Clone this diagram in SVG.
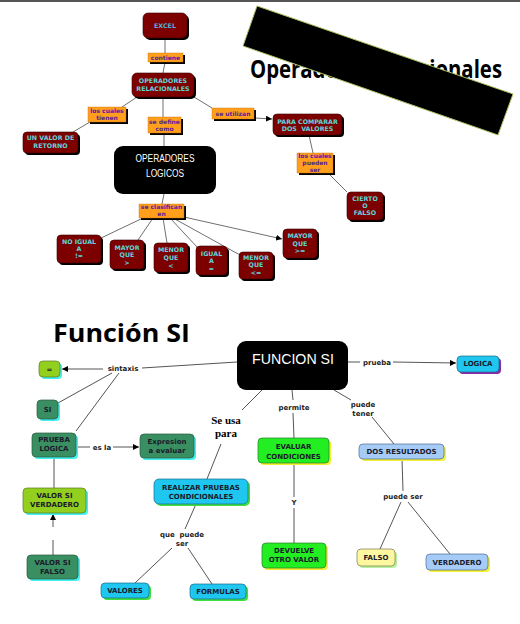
<svg xmlns="http://www.w3.org/2000/svg" width="520" height="624" viewBox="0 0 520 624">
<defs>
<style>
.bg{fill:#ffffff}
.red{fill:#7d0000;stroke:#3a0000;stroke-width:0.6}
.sh{fill:#000000}
.lab{fill:#ff9f1c;stroke:#c07010;stroke-width:0.4}
.tn{font-family:"DejaVu Sans",Verdana,sans-serif;font-weight:bold;font-size:6.3px;fill:#5fd3dc;text-anchor:middle}
.tl{font-family:"DejaVu Sans",Verdana,sans-serif;font-weight:bold;font-size:6px;fill:#5a1e96;text-anchor:middle}
.bn{font-family:"DejaVu Sans",Verdana,sans-serif;font-weight:bold;font-size:7px;fill:#1a1a2a;text-anchor:middle}
.bl{font-family:"DejaVu Sans",Verdana,sans-serif;font-weight:bold;font-size:7px;fill:#222222;text-anchor:middle}
.ser{font-family:"Liberation Serif","Times New Roman",serif;font-weight:bold;font-size:11px;fill:#000000;text-anchor:middle}
.ln{stroke:#707070;stroke-width:1;fill:none}
.lnb{stroke:#555555;stroke-width:1;fill:none}
.title{font-family:"Open Sans","Liberation Sans",Arial,sans-serif;font-weight:bold;font-size:25px;fill:#000000}
.teal{fill:#3a8f62;stroke:#2a5a40;stroke-width:0.7}
.yg{fill:#93cf1f;stroke:#5a7a20;stroke-width:0.7}
.grn{fill:#22ee22;stroke:#2a7a2a;stroke-width:0.7}
.cy{fill:#1ec6f0;stroke:#1a6a8a;stroke-width:0.7}
.lb{fill:#a6cbf7;stroke:#4a6a9a;stroke-width:0.7}
.ly{fill:#fff7a0;stroke:#7a7a50;stroke-width:0.7}
.scy{fill:#40f0f0}
.sgr{fill:#3ee03e}
.sye{fill:#f4f030}
.spu{fill:#8a2aa8}
</style>
<marker id="arr" viewBox="0 0 10 10" refX="10" refY="5" markerWidth="6" markerHeight="6" orient="auto" markerUnits="userSpaceOnUse">
<path d="M0,0 L10,5 L0,10 z" fill="#000"/>
</marker>
</defs>
<rect class="bg" x="0" y="0" width="520" height="624"/>
<rect x="0" y="0" width="520" height="2" fill="#555"/>

<g id="titles">
<text class="title" x="250" y="78" textLength="252" lengthAdjust="spacingAndGlyphs">Operadores Relacionales</text>
<text class="title" x="53" y="342" textLength="137" lengthAdjust="spacingAndGlyphs">Función SI</text>
</g>
<polygon id="redaction" points="257,6 513,94 498,135 243,46" fill="#000" stroke="#a8c060" stroke-width="1"/>

<g id="connectors">
<line class="ln" x1="165" y1="38" x2="165" y2="53"/>
<line class="ln" x1="165" y1="62" x2="163" y2="73"/>
<line class="ln" x1="137" y1="97" x2="122" y2="107"/>
<line class="ln" x1="90" y1="122" x2="73" y2="132"/>
<line class="ln" x1="163" y1="97" x2="163" y2="117"/>
<line class="ln" x1="164" y1="133" x2="164" y2="146"/>
<line class="ln" x1="194" y1="97" x2="212" y2="108"/>
<line class="ln" x1="255" y1="118" x2="272" y2="119" marker-end="url(#arr)"/>
<line class="ln" x1="309" y1="135" x2="313" y2="153"/>
<line class="ln" x1="329" y1="174" x2="347" y2="192"/>
<line class="ln" x1="164" y1="194" x2="162" y2="204"/>
<line class="ln" x1="143" y1="218" x2="101" y2="238"/>
<line class="ln" x1="153" y1="218" x2="138" y2="240"/>
<line class="ln" x1="163" y1="218" x2="167" y2="243"/>
<line class="ln" x1="170" y1="218" x2="197" y2="247"/>
<line class="ln" x1="173" y1="218" x2="240" y2="255"/>
<line class="ln" x1="184" y1="217" x2="282" y2="239" marker-end="url(#arr)"/>
<line class="lnb" x1="237" y1="362" x2="142" y2="368"/>
<line class="lnb" x1="103" y1="369" x2="62" y2="369" marker-end="url(#arr)"/>
<line class="lnb" x1="112" y1="373" x2="58" y2="403"/>
<line class="lnb" x1="119" y1="373" x2="76" y2="431"/>
<line class="lnb" x1="76" y1="447" x2="90" y2="447"/>
<line class="lnb" x1="113" y1="447" x2="139" y2="447" marker-end="url(#arr)"/>
<line class="lnb" x1="54" y1="457" x2="54" y2="488"/>
<line class="lnb" x1="53" y1="555" x2="53" y2="540"/>
<line class="lnb" x1="53" y1="527" x2="53" y2="514" marker-end="url(#arr)"/>
<line class="lnb" x1="348" y1="362" x2="360" y2="362"/>
<line class="lnb" x1="393" y1="362" x2="456" y2="363" marker-end="url(#arr)"/>
<line class="lnb" x1="292" y1="390" x2="293" y2="400"/>
<line class="lnb" x1="293" y1="413" x2="294" y2="438"/>
<line class="lnb" x1="334" y1="390" x2="351" y2="400"/>
<line class="lnb" x1="372" y1="417" x2="394" y2="444"/>
<line class="lnb" x1="262" y1="390" x2="242" y2="410"/>
<line class="lnb" x1="221" y1="444" x2="207" y2="479"/>
<line class="lnb" x1="196" y1="504" x2="185" y2="529"/>
<line class="lnb" x1="172" y1="548" x2="135" y2="583"/>
<line class="lnb" x1="188" y1="548" x2="212" y2="584"/>
<line class="lnb" x1="294" y1="463" x2="294" y2="497"/>
<line class="lnb" x1="294" y1="508" x2="294" y2="543"/>
<line class="lnb" x1="402" y1="459" x2="403" y2="491"/>
<line class="lnb" x1="401" y1="502" x2="380" y2="549"/>
<line class="lnb" x1="408" y1="502" x2="450" y2="554"/>
</g>

<g id="excel"><rect class="sh" x="145" y="15" width="44" height="25" rx="5"/><rect class="red" x="143" y="13" width="44" height="25" rx="5"/><text class="tn" x="165" y="27.5" style="fill:#4fb0dc">EXCEL</text></g>
<g id="l-contiene"><rect class="sh" x="150" y="55" width="35" height="9"/><rect class="lab" x="148" y="53" width="35" height="9"/><text class="tl" x="165.5" y="60">contiene</text></g>
<g id="op-rel"><rect class="sh" x="134" y="75" width="62" height="24" rx="5"/><rect class="red" x="132" y="73" width="62" height="24" rx="5"/><text class="tn" x="163" y="83">OPERADORES</text><text class="tn" x="163" y="90.5">RELACIONALES</text></g>
<g id="l-tienen"><rect class="sh" x="90" y="109" width="38" height="15"/><rect class="lab" x="88" y="107" width="38" height="15"/><text class="tl" x="107" y="112.5">los cuales</text><text class="tl" x="107" y="120">tienen</text></g>
<g id="l-define"><rect class="sh" x="150" y="119" width="33" height="16"/><rect class="lab" x="148" y="117" width="33" height="16"/><text class="tl" x="164.5" y="123.5">se define</text><text class="tl" x="164.5" y="131">como</text></g>
<g id="l-utilizan"><rect class="sh" x="214" y="110" width="42" height="11"/><rect class="lab" x="212" y="108" width="42" height="11"/><text class="tl" x="233" y="116">se utilizan</text></g>
<g id="retorno"><rect class="sh" x="25" y="134" width="55" height="21" rx="4"/><rect class="red" x="23" y="132" width="55" height="21" rx="4"/><text class="tn" x="50.5" y="139.5">UN VALOR DE</text><text class="tn" x="50.5" y="148">RETORNO</text></g>
<g id="comparar"><rect class="sh" x="275" y="116" width="69" height="21" rx="4"/><rect class="red" x="273" y="114" width="69" height="21" rx="4"/><text class="tn" x="307.5" y="123.5">PARA COMPARAR</text><text class="tn" x="307.5" y="131" xml:space="preserve">DOS  VALORES</text></g>
<g id="op-log"><rect x="114" y="146" width="102" height="48" rx="9" fill="#000"/><text x="165" y="161.5" text-anchor="middle" font-family="Liberation Sans, Arial, sans-serif" font-size="10" fill="#fff" textLength="59" lengthAdjust="spacingAndGlyphs">OPERADORES</text><text x="165" y="176.5" text-anchor="middle" font-family="Liberation Sans, Arial, sans-serif" font-size="10" fill="#fff" textLength="38" lengthAdjust="spacingAndGlyphs">LOGICOS</text></g>
<g id="l-pueden"><rect class="sh" x="299" y="155" width="36" height="20"/><rect class="lab" x="297" y="153" width="36" height="20"/><text class="tl" x="315" y="157.5">los cuales</text><text class="tl" x="315" y="165">pueden</text><text class="tl" x="315" y="172">ser</text></g>
<g id="cierto"><rect class="sh" x="349" y="194" width="36" height="28" rx="4"/><rect class="red" x="347" y="192" width="36" height="28" rx="4"/><text class="tn" x="365" y="200.5">CIERTO</text><text class="tn" x="365" y="208">O</text><text class="tn" x="365" y="215">FALSO</text></g>
<g id="l-clasifican"><rect class="sh" x="141" y="206" width="45" height="14"/><rect class="lab" x="139" y="204" width="45" height="14"/><text class="tl" x="161.5" y="209">se clasifican</text><text class="tl" x="161.5" y="216">en</text></g>
<g id="no-igual"><rect class="sh" x="59" y="237" width="44" height="28" rx="4"/><rect class="red" x="57" y="235" width="44" height="28" rx="4"/><text class="tn" x="79" y="243.5">NO IGUAL</text><text class="tn" x="79" y="250.5">A</text><text class="tn" x="79" y="258">!=</text></g>
<g id="mayor"><rect class="sh" x="112" y="242" width="34" height="29" rx="4"/><rect class="red" x="110" y="240" width="34" height="29" rx="4"/><text class="tn" x="127" y="249.5">MAYOR</text><text class="tn" x="127" y="257">QUE</text><text class="tn" x="127" y="264.5">&gt;</text></g>
<g id="menor"><rect class="sh" x="156" y="245" width="34" height="29" rx="4"/><rect class="red" x="154" y="243" width="34" height="29" rx="4"/><text class="tn" x="171" y="252">MENOR</text><text class="tn" x="171" y="260">QUE</text><text class="tn" x="171" y="267.5">&lt;</text></g>
<g id="igual"><rect class="sh" x="198" y="248" width="31" height="29" rx="4"/><rect class="red" x="196" y="246" width="31" height="29" rx="4"/><text class="tn" x="211.5" y="255.5">IGUAL</text><text class="tn" x="211.5" y="263">A</text><text class="tn" x="211.5" y="270.5">=</text></g>
<g id="menor-igual"><rect class="sh" x="241" y="254" width="34" height="27" rx="4"/><rect class="red" x="239" y="252" width="34" height="27" rx="4"/><text class="tn" x="256" y="259.5">MENOR</text><text class="tn" x="256" y="267">QUE</text><text class="tn" x="256" y="274.5">&lt;=</text></g>
<g id="mayor-igual"><rect class="sh" x="285" y="231" width="34" height="29" rx="4"/><rect class="red" x="283" y="229" width="34" height="29" rx="4"/><text class="tn" x="300" y="238">MAYOR</text><text class="tn" x="300" y="245.5">QUE</text><text class="tn" x="300" y="253">&gt;=</text></g>

<g id="funcion-si"><rect x="237" y="341" width="111" height="49" rx="9" fill="#000"/><text x="293" y="364" text-anchor="middle" font-family="Liberation Sans, Arial, sans-serif" font-size="15" fill="#fff" textLength="82" lengthAdjust="spacingAndGlyphs">FUNCION SI</text></g>
<g id="l-sintaxis"><text class="bl" x="123" y="370.5">sintaxis</text></g>
<g id="l-prueba"><text class="bl" x="377" y="364.5">prueba</text></g>
<g id="l-permite"><text class="bl" x="294" y="409.5">permite</text></g>
<g id="l-puede-tener"><text class="bl" x="363" y="406.5">puede</text><text class="bl" x="363" y="415.5">tener</text></g>
<g id="l-es-la"><text class="bl" x="102" y="449.5">es la</text></g>
<g id="l-se-usa"><text class="ser" x="226" y="423.5">Se usa</text><text class="ser" x="226" y="436.5">para</text></g>
<g id="l-que-puede"><text class="bl" x="182" y="536.5" xml:space="preserve">que  puede</text><text class="bl" x="182" y="545.5">ser</text></g>
<g id="l-puede-ser"><text class="bl" x="403" y="498.5">puede ser</text></g>
<g id="l-y"><text class="bl" x="294" y="504.5">Y</text></g>

<g id="igual-sym"><rect class="scy" x="41" y="363" width="21" height="16" rx="4"/><rect class="yg" x="39" y="361" width="21" height="16" rx="4"/><text class="bn" x="49.5" y="371.5">=</text></g>
<g id="si"><rect class="scy" x="39" y="402" width="21" height="19" rx="4"/><rect class="teal" x="37" y="400" width="21" height="19" rx="4"/><text class="bn" x="47.5" y="411.5">SI</text></g>
<g id="prueba-logica"><rect class="scy" x="34" y="435" width="44" height="24" rx="4"/><rect class="teal" x="32" y="433" width="44" height="24" rx="4"/><text class="bn" x="54" y="442">PRUEBA</text><text class="bn" x="54" y="451">LOGICA</text></g>
<g id="expresion"><rect class="scy" x="142" y="436" width="54" height="24" rx="4"/><rect class="teal" x="140" y="434" width="54" height="24" rx="4"/><text class="bn" x="167" y="444">Expresion</text><text class="bn" x="167" y="453">a evaluar</text></g>
<g id="valor-verdadero"><rect class="scy" x="25" y="490" width="63" height="25" rx="4"/><rect class="yg" x="23" y="488" width="63" height="25" rx="4"/><text class="bn" x="54.5" y="497.5">VALOR SI</text><text class="bn" x="54.5" y="507">VERDADERO</text></g>
<g id="valor-falso"><rect class="scy" x="29" y="557" width="51" height="24" rx="4"/><rect class="teal" x="27" y="555" width="51" height="24" rx="4"/><text class="bn" x="52.5" y="565">VALOR SI</text><text class="bn" x="52.5" y="574">FALSO</text></g>
<g id="realizar"><rect class="sgr" x="156" y="481" width="94" height="25" rx="5"/><rect class="cy" x="154" y="479" width="94" height="25" rx="5"/><text class="bn" x="201" y="490">REALIZAR PRUEBAS</text><text class="bn" x="201" y="499">CONDICIONALES</text></g>
<g id="valores"><rect class="sgr" x="103" y="585" width="48" height="15" rx="4"/><rect class="cy" x="101" y="583" width="48" height="15" rx="4"/><text class="bn" x="125" y="592.5">VALORES</text></g>
<g id="formulas"><rect class="sgr" x="192" y="586" width="56" height="15" rx="4"/><rect class="cy" x="190" y="584" width="56" height="15" rx="4"/><text class="bn" x="218" y="593.5">FORMULAS</text></g>
<g id="logica"><rect class="spu" x="459" y="358" width="42" height="16" rx="4"/><rect class="cy" x="457" y="356" width="42" height="16" rx="4"/><text class="bn" x="478" y="366">LOGICA</text></g>
<g id="evaluar"><rect class="sye" x="260" y="440" width="71" height="25" rx="4"/><rect class="grn" x="258" y="438" width="71" height="25" rx="4"/><text class="bn" x="293.5" y="448.5">EVALUAR</text><text class="bn" x="293.5" y="458.5">CONDICIONES</text></g>
<g id="devuelve"><rect class="sye" x="264" y="545" width="64" height="25" rx="4"/><rect class="grn" x="262" y="543" width="64" height="25" rx="4"/><text class="bn" x="294" y="553">DEVUELVE</text><text class="bn" x="294" y="562">OTRO VALOR</text></g>
<g id="dos-resultados"><rect class="sye" x="361" y="446" width="85" height="15" rx="4"/><rect class="lb" x="359" y="444" width="85" height="15" rx="4"/><text class="bn" x="401.5" y="453.5">DOS RESULTADOS</text></g>
<g id="falso"><rect fill="#b8f0a0" x="359" y="551" width="38" height="17" rx="4"/><rect class="ly" x="357" y="549" width="38" height="17" rx="4"/><text class="bn" x="376" y="560">FALSO</text></g>
<g id="verdadero"><rect class="sye" x="428" y="556" width="62" height="16" rx="4"/><rect class="lb" x="426" y="554" width="62" height="16" rx="4"/><text class="bn" x="457" y="564.5">VERDADERO</text></g>
</svg>
